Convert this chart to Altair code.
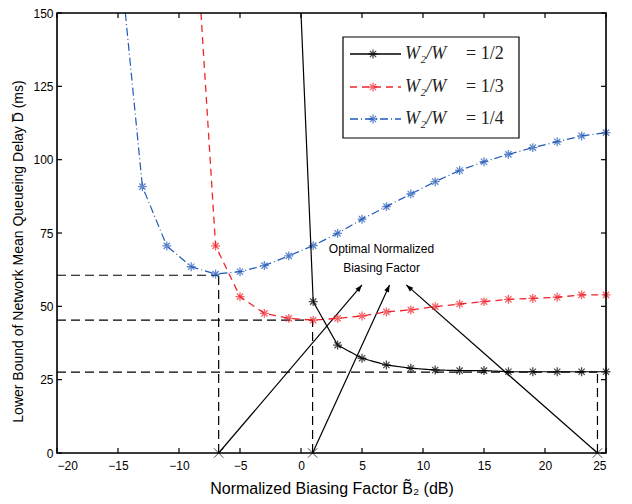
import math
import altair as alt
import pandas as pd

# ---------------- data ----------------
x_ticks = [-20, -15, -10, -5, 0, 5, 10, 15, 20, 25]
y_ticks = [0, 25, 50, 75, 100, 125, 150]

half_db = [1, 3, 5, 7, 9, 11, 13, 15, 17, 19, 21, 23, 25]
half_delay = [51.6, 36.8, 32.3, 30.0, 28.9, 28.3, 28.1, 28.1, 27.7, 27.7, 27.7, 27.7, 27.7]
half_top = (0.0, 150)

third_db = [-7, -5, -3, -1, 1, 3, 5, 7, 9, 11, 13, 15, 17, 19, 21, 23, 25]
third_delay = [70.6, 53.3, 47.6, 45.9, 45.3, 45.9, 46.7, 48.1, 48.8, 49.9, 50.8,
               51.6, 52.4, 52.7, 53.1, 53.9, 53.9]
third_top = (-8.2, 150)

quarter_db = [-13, -11, -9, -7, -5, -3, -1, 1, 3, 5, 7, 9, 11, 13, 15, 17, 19, 21, 23, 25]
quarter_delay = [90.8, 70.6, 63.5, 61.0, 61.8, 63.9, 67.2, 70.7, 74.9, 79.7, 84.0,
                 88.3, 92.5, 96.3, 99.3, 101.8, 104.1, 106.1, 108.1, 109.2]
quarter_top = (-14.4, 150)

opt_x = [-6.75, 0.95, 24.3]
opt_y = [60.6, 45.3, 27.6]
tip_x = [5.0, 7.26, 8.63]
tip_y = [57.3, 57.3, 57.3]

note_lines = ["Optimal Normalized", "Biasing Factor"]
note_x = [6.6, 6.6]
note_y = [69.6, 63.1]

series_names = ["W\u2082/W", "W\u2082/W", "W\u2082/W"]
series_ratio = ["= 1/2", "= 1/3", "= 1/4"]

# ---------------- styling ----------------
W, H = 549, 440
XMIN, XMAX, YMIN, YMAX = -20, 25, 0, 150
BLACK, RED, BLUE = "#000000", "#f0242c", "#2159b8"
FONT = "Liberation Sans"
SERIF = "Liberation Serif"
STAR = "M-1,0L1,0M0,-1L0,1M-0.7,-0.7L0.7,0.7M-0.7,0.7L0.7,-0.7"
XMARK = "M-1,-1L1,1M-1,1L1,-1"
ARROW = "M0,0L0.36,1L-0.36,1Z"

xs = alt.Scale(domain=[XMIN, XMAX], nice=False, zero=False)
ys = alt.Scale(domain=[YMIN, YMAX], nice=False, zero=False)

x_axis = alt.Axis(values=x_ticks, tickSize=0, domain=False, grid=False,
                  labelFont=FONT, labelFontSize=12, labelPadding=7, labelColor="black",
                  titleFont=FONT, titleFontSize=16, titleFontWeight="normal",
                  titleColor="black", titlePadding=9)
y_axis = alt.Axis(values=y_ticks, tickSize=0, domain=False, grid=False,
                  labelFont=FONT, labelFontSize=12, labelPadding=4, labelColor="black",
                  titleFont=FONT, titleFontSize=14, titleFontWeight="normal",
                  titleColor="black", titlePadding=7,
                  titleY=H / 2 + 18, titleAlign="center")
X_TITLE = "Normalized Biasing Factor  B\u0303\u2082  (dB)"
Y_TITLE = "Lower Bound of Network Mean Queueing Delay D\u0305 (ms)"


def X(field="x"):
    return alt.X(f"{field}:Q", scale=xs, axis=x_axis, title=X_TITLE)


def Y(field="y"):
    return alt.Y(f"{field}:Q", scale=ys, axis=y_axis, title=Y_TITLE)


def curve(top, xv, yv, color, dash, width):
    df = pd.DataFrame({"x": [top[0]] + xv, "y": [top[1]] + yv})
    line = alt.Chart(df).mark_line(color=color, strokeWidth=width, strokeDash=dash,
                                   clip=True).encode(x=X(), y=Y())
    pts = alt.Chart(pd.DataFrame({"x": xv, "y": yv})).mark_point(
        shape=STAR, size=80, filled=False, color=color, strokeWidth=1.3).encode(x=X(), y=Y())
    return line + pts


# dashed optimum guides
hguide = alt.Chart(pd.DataFrame({"x": [XMIN] * 3, "x2": opt_x, "y": opt_y})).mark_rule(
    color="black", strokeWidth=1.2, strokeDash=[9, 5]).encode(x=X(), x2="x2:Q", y=Y())
vguide = alt.Chart(pd.DataFrame({"x": opt_x, "y": [0] * 3, "y2": opt_y})).mark_rule(
    color="black", strokeWidth=1.2, strokeDash=[9, 5]).encode(x=X(), y=Y(), y2="y2:Q")

# arrows
px_x = W / (XMAX - XMIN)
px_y = H / (YMAX - YMIN)
angles = []
for bx, tx, ty in zip(opt_x, tip_x, tip_y):
    dxs = (tx - bx) * px_x
    dys = -(ty - 0) * px_y
    angles.append(math.degrees(math.atan2(dxs, -dys)) % 360)

arrow_lines = alt.Chart(pd.DataFrame({"x": opt_x, "y": [0] * 3, "x2": tip_x, "y2": tip_y})).mark_rule(
    color="black", strokeWidth=1.2).encode(x=X(), y=Y(), x2="x2:Q", y2="y2:Q")
arrow_heads = alt.Chart(pd.DataFrame({"x": tip_x, "y": tip_y, "a": angles})).mark_point(
    shape=ARROW, size=200, filled=True, color="black", opacity=1).encode(
    x=X(), y=Y(), angle=alt.Angle("a:Q", scale=None))
xmarks = alt.Chart(pd.DataFrame({"x": opt_x, "y": [0] * 3})).mark_point(
    shape=XMARK, size=90, filled=False, color="black", strokeWidth=1).encode(x=X(), y=Y())

note = alt.Chart(pd.DataFrame({"x": note_x, "y": note_y, "t": note_lines})).mark_text(
    font=FONT, fontSize=12, color="black", align="center", baseline="middle").encode(
    x=X(), y=Y(), text="t:N")

# inward ticks on all four sides
tx_df = pd.DataFrame({"x": x_ticks})
ty_df = pd.DataFrame({"y": y_ticks})
tick_style = dict(color="black", strokeWidth=1.2)
ticks_bottom = alt.Chart(tx_df).mark_rule(**tick_style).encode(
    x=X(), y=alt.value(H), y2=alt.value(H - 5))
ticks_top = alt.Chart(tx_df).mark_rule(**tick_style).encode(
    x=X(), y=alt.value(0), y2=alt.value(5))
ticks_left = alt.Chart(ty_df).mark_rule(**tick_style).encode(
    y=Y(), x=alt.value(0), x2=alt.value(5))
ticks_right = alt.Chart(ty_df).mark_rule(**tick_style).encode(
    y=Y(), x=alt.value(W), x2=alt.value(W - 5))

one = pd.DataFrame({"k": [0]})
frame = alt.Chart(one).mark_rect(fill=None, filled=False, stroke="black", strokeWidth=1.6).encode(
    x=alt.value(0), x2=alt.value(W), y=alt.value(0), y2=alt.value(H))

# legend (manual, framed)
LX0, LX1, LY0, LY1 = 286, 462, 24, 125
rows = [41, 74, 106]
colors = [BLACK, RED, BLUE]
dashes = [[1, 0], [7, 5], [8, 3, 1, 3]]
legend_box = alt.Chart(one).mark_rect(fill="white", stroke="black", strokeWidth=1.2).encode(
    x=alt.value(LX0), x2=alt.value(LX1), y=alt.value(LY0), y2=alt.value(LY1))
legend_layers = [legend_box]
for r, c, d, nm, rt in zip(rows, colors, dashes, series_names, series_ratio):
    legend_layers.append(alt.Chart(one).mark_rule(color=c, strokeWidth=1.3, strokeDash=d).encode(
        x=alt.value(293), x2=alt.value(344), y=alt.value(r)))
    legend_layers.append(alt.Chart(one).mark_point(shape=STAR, size=80, filled=False, color=c,
                                                   strokeWidth=1.3).encode(
        x=alt.value(316), y=alt.value(r)))
    legend_layers.append(alt.Chart(one).mark_text(font=SERIF, fontStyle="italic", fontSize=18,
                                                  align="left", baseline="middle", color="#222").encode(
        x=alt.value(348), y=alt.value(r), text=alt.value(nm)))
    legend_layers.append(alt.Chart(one).mark_text(font=SERIF, fontSize=18,
                                                  align="left", baseline="middle", color="#222").encode(
        x=alt.value(409), y=alt.value(r), text=alt.value(rt)))

chart = alt.layer(
    hguide, vguide, arrow_lines, arrow_heads, xmarks, note,
    curve(quarter_top, quarter_db, quarter_delay, BLUE, [8, 3, 1, 3], 1.2),
    curve(third_top, third_db, third_delay, RED, [7, 5], 1.3),
    curve(half_top, half_db, half_delay, BLACK, [1, 0], 1.2),
    ticks_bottom, ticks_top, ticks_left, ticks_right, frame,
    *legend_layers,
).properties(
    width=W, height=H,
    autosize=alt.AutoSizeParams(type="none"),
    padding={"left": 49, "top": 5, "right": 10, "bottom": 50},
).configure_view(stroke=None).configure(background="white")

chart.save("out.html", embed_options={"renderer": "svg", "actions": False})
